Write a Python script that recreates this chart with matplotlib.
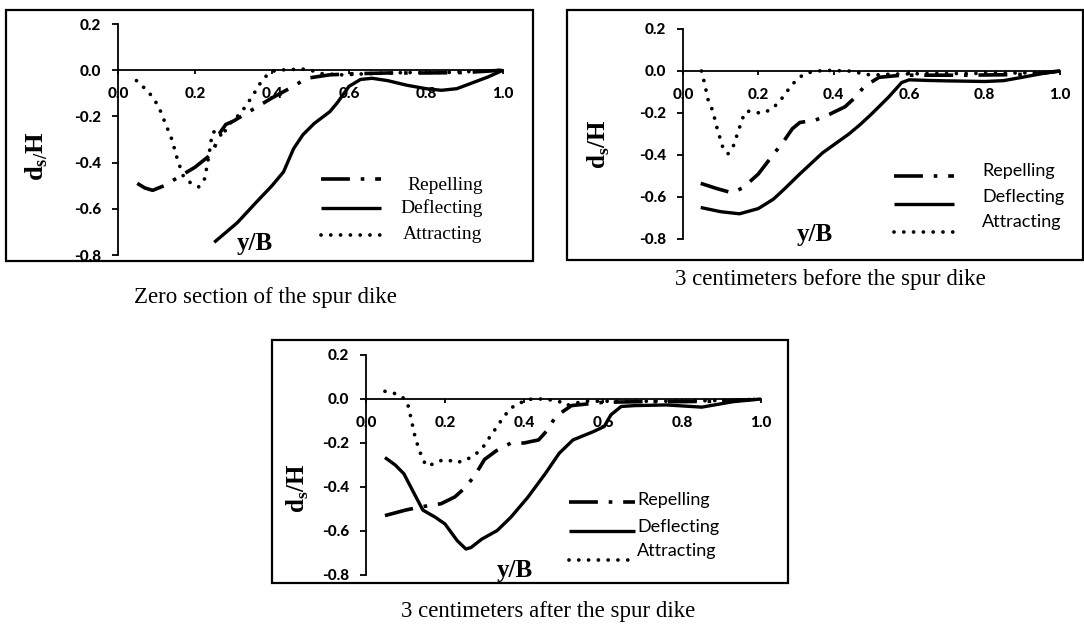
import matplotlib
matplotlib.use("Agg")
import matplotlib.pyplot as plt
from matplotlib.patches import Rectangle
from matplotlib.ticker import FormatStrFormatter

plt.rcParams['mathtext.fontset'] = 'custom'
plt.rcParams['mathtext.rm'] = 'Liberation Serif'
plt.rcParams['mathtext.bf'] = 'Liberation Serif:bold'

W, H = 1084, 624

# Zero section of the spur dike
rep1_x = [0.05, 0.07, 0.09, 0.12, 0.16, 0.20, 0.245, 0.265, 0.28, 0.30, 0.35, 0.40, 0.45, 0.49, 0.55, 0.62, 0.70, 0.80, 0.90, 1.00]
rep1_y = [-0.49, -0.51, -0.52, -0.50, -0.46, -0.42, -0.36, -0.27, -0.235, -0.22, -0.17, -0.12, -0.075, -0.035, -0.02, -0.015, -0.012, -0.012, -0.01, 0.0]
def1_x = [0.25, 0.31, 0.36, 0.40, 0.43, 0.456, 0.48, 0.51, 0.55, 0.57, 0.60, 0.63, 0.66, 0.70, 0.75, 0.80, 0.84, 0.88, 0.92, 0.96, 1.00]
def1_y = [-0.745, -0.66, -0.57, -0.50, -0.44, -0.34, -0.28, -0.23, -0.18, -0.14, -0.07, -0.04, -0.035, -0.045, -0.065, -0.08, -0.087, -0.08, -0.055, -0.03, 0.0]
att1_x = [0.048, 0.08, 0.105, 0.123, 0.14, 0.155, 0.17, 0.19, 0.21, 0.225, 0.235, 0.245, 0.26, 0.27, 0.285, 0.31, 0.33, 0.35, 0.37, 0.39, 0.41, 0.45, 0.49, 0.53, 0.58, 0.65, 0.75, 0.85, 1.00]
att1_y = [-0.045, -0.095, -0.155, -0.23, -0.30, -0.39, -0.46, -0.49, -0.505, -0.47, -0.38, -0.27, -0.26, -0.29, -0.24, -0.20, -0.16, -0.11, -0.055, -0.015, 0.0, 0.003, 0.005, -0.015, -0.02, -0.015, -0.01, -0.01, 0.0]

# 3 centimeters before the spur dike
rep2_x = [0.047, 0.09, 0.13, 0.16, 0.20, 0.245, 0.265, 0.29, 0.31, 0.35, 0.39, 0.43, 0.46, 0.48, 0.52, 0.58, 0.65, 0.75, 0.85, 0.93, 1.00]
rep2_y = [-0.535, -0.56, -0.58, -0.555, -0.49, -0.385, -0.34, -0.275, -0.245, -0.235, -0.205, -0.17, -0.12, -0.075, -0.03, -0.02, -0.02, -0.02, -0.018, -0.015, 0.0]
def2_x = [0.047, 0.10, 0.15, 0.20, 0.24, 0.27, 0.31, 0.34, 0.37, 0.405, 0.44, 0.47, 0.50, 0.545, 0.58, 0.60, 0.65, 0.70, 0.80, 0.85, 0.90, 0.95, 1.00]
def2_y = [-0.65, -0.67, -0.68, -0.655, -0.61, -0.56, -0.49, -0.44, -0.39, -0.345, -0.30, -0.255, -0.205, -0.125, -0.055, -0.042, -0.045, -0.047, -0.05, -0.046, -0.03, -0.013, 0.0]
att2_x = [0.049, 0.056, 0.067, 0.079, 0.09, 0.105, 0.119, 0.133, 0.147, 0.158, 0.169, 0.19, 0.213, 0.236, 0.255, 0.283, 0.30, 0.32, 0.345, 0.38, 0.44, 0.50, 0.55, 0.65, 0.75, 0.85, 0.95, 1.00]
att2_y = [0.0, -0.05, -0.14, -0.19, -0.27, -0.36, -0.395, -0.36, -0.285, -0.225, -0.19, -0.198, -0.20, -0.18, -0.148, -0.08, -0.044, -0.016, -0.002, 0.003, 0.0, -0.02, -0.015, -0.012, -0.012, -0.01, -0.008, 0.0]

# 3 centimeters after the spur dike
rep3_x = [0.048, 0.10, 0.14, 0.19, 0.225, 0.253, 0.278, 0.30, 0.33, 0.367, 0.40, 0.437, 0.46, 0.48, 0.52, 0.60, 0.70, 0.80, 0.90, 1.00]
rep3_y = [-0.53, -0.505, -0.49, -0.476, -0.445, -0.40, -0.34, -0.275, -0.235, -0.20, -0.20, -0.186, -0.14, -0.08, -0.03, -0.015, -0.012, -0.012, -0.01, 0.0]
def3_x = [0.048, 0.074, 0.096, 0.122, 0.144, 0.175, 0.20, 0.231, 0.253, 0.266, 0.293, 0.332, 0.367, 0.41, 0.454, 0.489, 0.524, 0.576, 0.603, 0.62, 0.646, 0.68, 0.76, 0.85, 0.93, 1.00]
def3_y = [-0.266, -0.30, -0.34, -0.43, -0.505, -0.537, -0.568, -0.644, -0.682, -0.675, -0.637, -0.598, -0.537, -0.446, -0.339, -0.247, -0.186, -0.148, -0.125, -0.072, -0.034, -0.03, -0.027, -0.037, -0.012, 0.0]
att3_x = [0.048, 0.07, 0.092, 0.105, 0.114, 0.122, 0.133, 0.144, 0.153, 0.175, 0.192, 0.21, 0.227, 0.253, 0.28, 0.297, 0.314, 0.332, 0.349, 0.367, 0.389, 0.419, 0.454, 0.489, 0.507, 0.524, 0.56, 0.65, 0.75, 0.85, 0.95, 1.00]
att3_y = [0.035, 0.027, 0.009, -0.018, -0.087, -0.156, -0.224, -0.275, -0.304, -0.293, -0.278, -0.278, -0.29, -0.278, -0.247, -0.217, -0.171, -0.125, -0.08, -0.041, -0.018, 0.0, 0.0, -0.011, -0.03, -0.02, -0.01, -0.01, -0.01, -0.008, -0.005, 0.0]

names = ['Repelling', 'Deflecting', 'Attracting']
captions = ['Zero section of the spur dike',
            '3 centimeters before the spur dike',
            '3 centimeters after the spur dike']
yticks = [0.2, 0.0, -0.2, -0.4, -0.6, -0.8]
xticks = [0.0, 0.2, 0.4, 0.6, 0.8, 1.0]

styles = {
    'Repelling': dict(color='black', lw=2.6, linestyle=(0, (8, 3, 1, 3)), dash_capstyle='butt'),
    'Deflecting': dict(color='black', lw=2.4, linestyle='-', solid_capstyle='butt'),
    'Attracting': dict(color='black', lw=2.7, linestyle=(0, (0.01, 2.6)), dash_capstyle='round'),
}

fig = plt.figure(figsize=(W / 100, H / 100), dpi=100)


def make_axes(x0, x1, ytop, ybot):
    # pixel positions of x=0, x=1, y=0.2, y=-0.8
    return fig.add_axes([x0 / W, 1 - ybot / H, (x1 - x0) / W, (ybot - ytop) / H])


def box(x0, y0, x1, y1):
    fig.add_artist(Rectangle((x0 / W, 1 - y1 / H), (x1 - x0) / W, (y1 - y0) / H,
                             transform=fig.transFigure, fill=False, lw=1.6, color='black'))


def setup(ax):
    ax.set_xlim(0, 1)
    ax.set_ylim(-0.8, 0.2)
    ax.spines['top'].set_visible(False)
    ax.spines['right'].set_visible(False)
    ax.spines['bottom'].set_position(('data', 0))
    ax.spines['left'].set_linewidth(1.3)
    ax.spines['bottom'].set_linewidth(1.3)
    ax.set_yticks(yticks)
    ax.set_xticks(xticks)
    ax.yaxis.set_major_formatter(FormatStrFormatter('%.1f'))
    ax.xaxis.set_major_formatter(FormatStrFormatter('%.1f'))
    ax.tick_params(axis='y', direction='out', length=4, width=1.3, pad=8)
    ax.tick_params(axis='x', direction='out', length=3, width=1.3, pad=9)
    for lab in ax.get_xticklabels() + ax.get_yticklabels():
        lab.set_fontfamily('Lato')
        lab.set_fontweight('black')
        lab.set_fontsize(11)
    ax.patch.set_alpha(0)


panels = [
    dict(ax=(118, 503, 24, 255), box=(6, 10, 533, 261),
         data=[(rep1_x, rep1_y), (def1_x, def1_y), (att1_x, att1_y)],
         ylab=r'$\mathbf{d}_{\mathbf{s/}}\mathbf{H}$', ylab_pos=(-0.21, 0.43), ylab_size=19,
         xlab_pos=(0.356, -0.75),
         cap=(265, 297)),
    dict(ax=(683, 1060, 29, 239), box=(567, 10, 1083, 260),
         data=[(rep2_x, rep2_y), (def2_x, def2_y), (att2_x, att2_y)],
         ylab=r'$\mathbf{d}_{\mathbf{s}}\mathbf{/H}$', ylab_pos=(-0.223, 0.45), ylab_size=18,
         xlab_pos=(0.35, -0.78),
         cap=(830, 279)),
    dict(ax=(366, 761, 355, 575), box=(272, 340, 788, 583),
         data=[(rep3_x, rep3_y), (def3_x, def3_y), (att3_x, att3_y)],
         ylab=r'$\mathbf{d}_{\mathbf{s}}\mathbf{/H}$', ylab_pos=(-0.172, 0.395), ylab_size=18,
         xlab_pos=(0.377, -0.78),
         cap=(548, 612)),
]

axes = []
for i, p in enumerate(panels):
    ax = make_axes(*p['ax'])
    setup(ax)
    box(*p['box'])
    for name, (xs, ys) in zip(names, p['data']):
        ax.plot(xs, ys, clip_on=False, **styles[name])
    ax.text(p['ylab_pos'][0], p['ylab_pos'][1], p['ylab'], transform=ax.transAxes,
            rotation=90, ha='center', va='center', fontsize=p['ylab_size'])
    ax.text(p['xlab_pos'][0], p['xlab_pos'][1], 'y/B', ha='center', va='center',
            fontsize=18, fontweight='bold', family='Liberation Serif')
    fig.text(p['cap'][0] / W, 1 - p['cap'][1] / H, captions[i],
             ha='center', va='center', fontsize=16.5, family='Liberation Serif')
    axes.append(ax)

# legends drawn by hand to follow the original placement
leg1_line_y = [-0.47, -0.595, -0.715]
leg1_text_y = [-0.50, -0.595, -0.71]
for name, ly, ty in zip(names, leg1_line_y, leg1_text_y):
    axes[0].plot([0.526, 0.684], [ly, ly], **styles[name])
    axes[0].text(0.947, ty, name, ha='right', va='center', fontsize=14, family='Liberation Serif')

leg2_line_y = [-0.50, -0.635, -0.767]
leg2_text_y = [-0.476, -0.60, -0.72]
for name, ly, ty in zip(names, leg2_line_y, leg2_text_y):
    axes[1].plot([0.56, 0.72], [ly, ly], **styles[name])
    axes[1].text(0.794, ty, name, ha='left', va='center', fontsize=13, family='Lato')

leg3_line_y = [-0.469, -0.598, -0.733]
leg3_text_y = [-0.461, -0.58, -0.693]
for name, ly, ty in zip(names, leg3_line_y, leg3_text_y):
    axes[2].plot([0.515, 0.681], [ly, ly], **styles[name])
    axes[2].text(0.686, ty, name, ha='left', va='center', fontsize=13, family='Lato')

fig.savefig('out.png', dpi=100)
